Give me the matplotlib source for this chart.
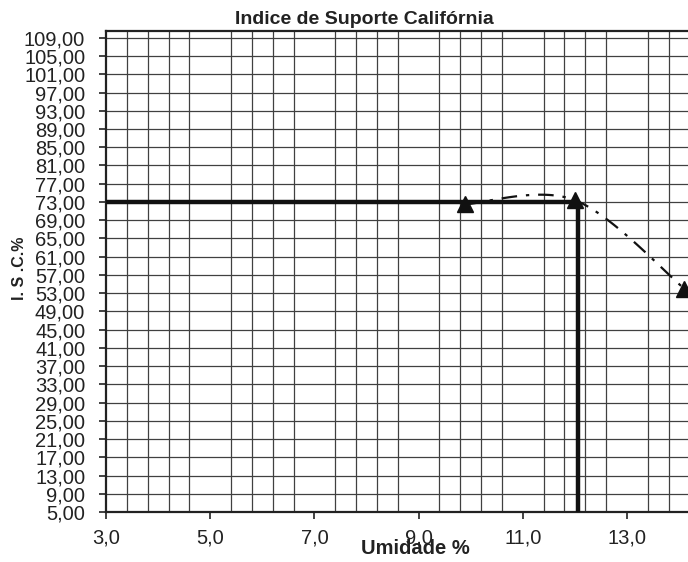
import numpy as np
import matplotlib
matplotlib.use('Agg')
import matplotlib.pyplot as plt

plt.rcParams['font.family'] = ['Liberation Sans', 'DejaVu Sans']

# ensaio CBR: umidade x indice de suporte
umidade = [9.9, 12.0, 14.1]
isc = [72.5, 73.4, 54.0]

# leitura do ponto otimo
umidade_otima = 12.05
isc_otimo = 73.0

x_ticks = [3.0, 5.0, 7.0, 9.0, 11.0, 13.0]
y_ticks = list(range(5, 110, 4))


def curva_suave(xs, ys, n=60):
    """Bezier smoothing between points (like a spreadsheet smoothed line)."""
    pts = np.column_stack([xs, ys]).astype(float)
    out = []
    for i in range(len(pts) - 1):
        p0 = pts[max(i - 1, 0)]
        p1 = pts[i]
        p2 = pts[i + 1]
        p3 = pts[min(i + 2, len(pts) - 1)]
        c1 = p1 + (p2 - p0) / 6.0
        c2 = p2 - (p3 - p1) / 6.0
        t = np.linspace(0, 1, n)[:, None]
        seg = ((1 - t) ** 3 * p1 + 3 * (1 - t) ** 2 * t * c1
               + 3 * (1 - t) * t ** 2 * c2 + t ** 3 * p2)
        out.append(seg)
    return np.vstack(out)


fig = plt.figure(figsize=(6.88, 5.62), dpi=100)
W, H = 688.0, 562.0
ax = fig.add_axes([106 / W, 1 - 512 / H, (688 - 106) / W, (512 - 31) / H])

ax.set_xlim(3.0, 3.0 + (688 - 106) / 52.1)
ax.set_ylim(5, 110.5)

# grade
ax.set_xticks(x_ticks)
ax.set_xticklabels(['{:.1f}'.format(v).replace('.', ',') for v in x_ticks])
ax.set_xticks(np.arange(3.0, 14.2, 0.4), minor=True)
ax.set_yticks(y_ticks)
ax.set_yticklabels(['{:.2f}'.format(v).replace('.', ',') for v in y_ticks])
ax.grid(True, which='minor', axis='x', color='#404040', linewidth=0.9)
ax.grid(True, which='major', axis='y', color='#404040', linewidth=0.9)
ax.set_axisbelow(True)

ax.tick_params(axis='both', which='major', direction='out', length=5,
               width=1.2, labelsize=14.5, color='#222222', labelcolor='#222222')
ax.tick_params(axis='x', which='major', pad=7)
ax.tick_params(axis='y', which='major', pad=10)
ax.tick_params(axis='x', which='minor', length=0)

for side in ['left', 'bottom', 'top']:
    ax.spines[side].set_linewidth(1.6)
    ax.spines[side].set_color('#222222')
ax.spines['right'].set_visible(False)

# curva suavizada entre os pontos
curva = curva_suave(umidade, isc)
ax.plot(curva[:, 0], curva[:, 1], color='#111111', linewidth=1.6,
        linestyle=(0, (7, 4, 1.5, 4)), zorder=3)

# linhas de leitura do otimo
ax.plot([3.0, umidade_otima], [isc_otimo, isc_otimo], color='#111111',
        linewidth=3.2, solid_capstyle='butt', zorder=4)
ax.plot([umidade_otima, umidade_otima], [5, isc_otimo], color='#111111',
        linewidth=3.2, solid_capstyle='butt', zorder=4)

# pontos do ensaio
ax.plot(umidade, isc, linestyle='none', marker='^', markersize=12,
        color='#111111', zorder=5, clip_on=False)

fig.text(364 / W, 1 - 19 / H, 'Indice de Suporte Califórnia', ha='center',
         va='center', fontsize=14, fontweight='bold', color='#222222')
fig.text(415 / W, 1 - 549 / H, 'Umidade %', ha='center', va='center',
         fontsize=14.5, fontweight='bold', color='#222222')
fig.text(20 / W, 1 - 268 / H, 'I. S .C.%', ha='center', va='center',
         rotation=90, fontsize=11.5, fontweight='bold', color='#222222')

fig.savefig('out.png', dpi=100)
